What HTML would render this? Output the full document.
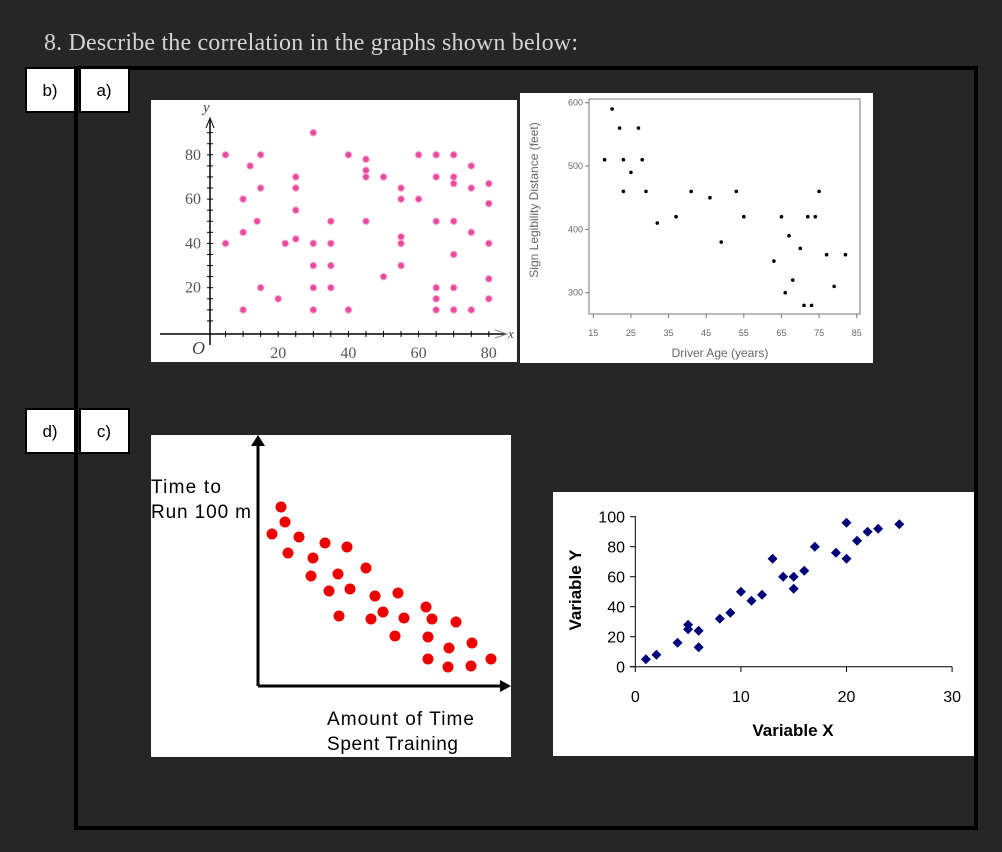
<!DOCTYPE html>
<html><head><meta charset="utf-8"><style>
html,body{margin:0;padding:0;background:#262626;}
svg{display:block;}
</style></head><body>
<svg id="root" width="1002" height="852" xmlns="http://www.w3.org/2000/svg">
<rect x="0" y="0" width="1002" height="852" fill="#262626"/>
<text x="44" y="50" font-family="Liberation Serif, serif" font-size="24" fill="#d4d4d4" textLength="534">8.  Describe the correlation in the graphs shown below:</text>
<rect x="76" y="68" width="900" height="760" fill="none" stroke="#000" stroke-width="4"/>
<g font-family="Liberation Sans, sans-serif" font-size="17" fill="#000">
<rect x="26" y="68" width="49" height="44" fill="#fff" stroke="#000" stroke-width="2"/>
<text x="50" y="96" text-anchor="middle">b)</text>
<rect x="80" y="68" width="49" height="44" fill="#fff" stroke="#000" stroke-width="2"/>
<text x="104" y="96" text-anchor="middle">a)</text>
<rect x="26" y="409" width="49" height="44" fill="#fff" stroke="#000" stroke-width="2"/>
<text x="50" y="437" text-anchor="middle">d)</text>
<rect x="80" y="409" width="49" height="44" fill="#fff" stroke="#000" stroke-width="2"/>
<text x="104" y="437" text-anchor="middle">c)</text>
</g>
<rect x="151" y="100" width="366" height="262" fill="#fff"/>
<rect x="520" y="93" width="353" height="270" fill="#fff"/>
<rect x="151" y="435" width="360" height="322" fill="#fff"/>
<rect x="553" y="492" width="421" height="264" fill="#fff"/>
<g id="ga"></g><g id="gb"></g><g id="gc"></g><g id="gd"></g>
</svg>
<script>
const NS='http://www.w3.org/2000/svg';
function mk(parent,tag,attrs,txt){const e=document.createElementNS(NS,tag);for(const k in attrs)e.setAttribute(k,attrs[k]);if(txt!==undefined)e.textContent=txt;parent.appendChild(e);return e;}

// Chart A data
const aX=[5,5,10,10,10,12,15,15,14,15,20,22,25,25,25,25,30,30,30,30,30,35,35,35,35,40,40,45,45,45,45,50,50,55,55,55,55,55,60,60,65,65,65,65,65,65,70,70,70,70,70,70,70,75,75,75,75,80,80,80,80,80];
const aY=[80,40,45,60,10,75,80,65,50,20,15,40,42,55,65,70,90,40,30,20,10,50,40,30,20,80,10,78,73,70,50,70,25,65,60,43,40,30,80,60,80,70,50,20,15,10,80,70,67,50,35,20,10,75,65,45,10,67,58,40,24,15];
const aTicks=[20,40,60,80];
// Chart B data
const bAge=[18,20,22,23,23,25,27,28,29,32,37,41,46,49,53,55,63,65,66,67,68,70,71,72,73,74,75,77,79,82];
const bDist=[510,590,560,510,460,490,560,510,460,410,420,460,450,380,460,420,350,420,300,390,320,370,280,420,280,420,460,360,310,360];
const bXTicks=[15,25,35,45,55,65,75,85];
const bYTicks=[300,400,500,600];
// Chart C data (training amount, run time) arbitrary units
const cX=[23,27,14,41,30,67,89,55,53,80,108,71,92,117,140,81,113,125,146,168,174,198,137,170,191,214,170,190,213,233];
const cY=[179,164,152,149,133,143,139,128,110,112,118,95,97,90,93,70,67,74,68,79,67,64,50,49,38,43,27,19,20,27];
// Chart D data
const dX=[1,2,4,5,5,6,6,8,9,10,11,12,13,14,15,15,16,17,19,20,20,21,22,23,25];
const dY=[5,8,16,28,25,24,13,32,36,50,44,48,72,60,60,52,64,80,76,96,72,84,90,92,95];
const dXTicks=[0,10,20,30];
const dYTicks=[0,20,40,60,80,100];

// ---- Chart A
(function(){
const g=document.getElementById('ga');
const sx=v=>208+v*3.51, sy=v=>332-v*2.215;
let e;
e=mk(g,'line',{x1:160,y1:334,x2:505,y2:334,stroke:'#000','stroke-width':1.5});

e=mk(g,'line',{x1:210,y1:345,x2:210,y2:120,stroke:'#000','stroke-width':1.5});

mk(g,'path',{d:'M206 128 L210 118 L214 128',fill:'none',stroke:'#000'});
mk(g,'path',{d:'M495 330 L507 334 L495 338',fill:'none',stroke:'#888'});
for(let v=5;v<=80;v+=5){mk(g,'line',{x1:sx(v),y1:331,x2:sx(v),y2:337,stroke:'#000'});}
for(let v=5;v<=90;v+=5){mk(g,'line',{x1:207,y1:sy(v),x2:213,y2:sy(v),stroke:'#000'});}
aTicks.forEach(t=>{
 e=mk(g,'text',{x:sx(t),y:358,'text-anchor':'middle','font-family':'Liberation Serif, serif','font-size':16,fill:'#555'},String(t));
 
 e=mk(g,'text',{x:201,y:sy(t)+5,'text-anchor':'end','font-family':'Liberation Serif, serif','font-size':16,fill:'#555'},String(t));
 
});
mk(g,'text',{x:192,y:354,'font-family':'Liberation Serif, serif','font-style':'italic','font-size':18,fill:'#444'},'O');
mk(g,'text',{x:203,y:112,'font-family':'Liberation Serif, serif','font-style':'italic','font-size':15,fill:'#444'},'y');
mk(g,'text',{x:508,y:338,'font-family':'Liberation Serif, serif','font-style':'italic','font-size':13,fill:'#444'},'x');
aX.forEach((x,i)=>{
 e=mk(g,'circle',{cx:sx(x),cy:sy(aY[i]),r:3.3,fill:'#e84a9e',stroke:'#f7a8d0','stroke-width':1});
 
});
})();

// ---- Chart B
(function(){
const g=document.getElementById('gb');
const sx=v=>593.3+(v-15)*3.763, sy=v=>292.7-(v-300)*0.6333;
let e;
e=mk(g,'rect',{x:589,y:99,width:271,height:215,fill:'none',stroke:'#777','stroke-width':1});

bXTicks.forEach(t=>{
 mk(g,'line',{x1:sx(t),y1:314,x2:sx(t),y2:318,stroke:'#777'});
 e=mk(g,'text',{x:sx(t),y:336,'text-anchor':'middle','font-family':'Liberation Sans, sans-serif','font-size':9,fill:'#666'},String(t));
 
});
bYTicks.forEach(t=>{
 mk(g,'line',{x1:585,y1:sy(t),x2:589,y2:sy(t),stroke:'#777'});
 e=mk(g,'text',{x:583,y:sy(t)+3,'text-anchor':'end','font-family':'Liberation Sans, sans-serif','font-size':9,fill:'#666'},String(t));
 
});
e=mk(g,'text',{x:720,y:357,'text-anchor':'middle','font-family':'Liberation Sans, sans-serif','font-size':12,fill:'#666'},'Driver Age (years)');

e=mk(g,'text',{x:0,y:0,transform:'translate(538,200) rotate(-90)','text-anchor':'middle','font-family':'Liberation Sans, sans-serif','font-size':12,fill:'#666'},'Sign Legibility Distance (feet)');

bAge.forEach((x,i)=>{
 e=mk(g,'circle',{cx:sx(x),cy:sy(bDist[i]),r:1.8,fill:'#000'});
 
});
})();

// ---- Chart C
(function(){
const g=document.getElementById('gc');
const sx=v=>258+v, sy=v=>686-v;
let e;
e=mk(g,'line',{x1:258,y1:686,x2:258,y2:442,stroke:'#000','stroke-width':3});

e=mk(g,'line',{x1:258,y1:686,x2:505,y2:686,stroke:'#000','stroke-width':3});

mk(g,'path',{d:'M251 446 L258 435 L265 446 Z',fill:'#000'});
mk(g,'path',{d:'M500 680 L511 686 L500 692 Z',fill:'#000'});
const f='Liberation Sans, sans-serif';
e=mk(g,'text',{x:151,y:493,'font-family':f,'font-size':19,fill:'#000',textLength:70},'Time to');

mk(g,'text',{x:151,y:518,'font-family':f,'font-size':19,fill:'#000',textLength:100},'Run 100 m');
e=mk(g,'text',{x:327,y:725,'font-family':f,'font-size':19,fill:'#000',textLength:147},'Amount of Time');

mk(g,'text',{x:327,y:750,'font-family':f,'font-size':19,fill:'#000',textLength:131},'Spent Training');
cX.forEach((x,i)=>{
 e=mk(g,'circle',{cx:sx(x),cy:sy(cY[i]),r:5.5,fill:'#ee0000'});
 
});
})();

// ---- Chart D
(function(){
const g=document.getElementById('gd');
const sx=v=>635.3+v*10.56, sy=v=>666.7-v*1.5;
let e;
const f='Liberation Sans, sans-serif';
e=mk(g,'line',{x1:635.3,y1:516,x2:635.3,y2:667,stroke:'#000'});

e=mk(g,'line',{x1:630,y1:666.7,x2:952,y2:666.7,stroke:'#000'});

dYTicks.forEach(t=>{
 mk(g,'line',{x1:630,y1:sy(t),x2:635.3,y2:sy(t),stroke:'#000'});
 e=mk(g,'text',{x:625,y:sy(t)+6,'text-anchor':'end','font-family':f,'font-size':16,fill:'#000'},String(t));
 
});
dXTicks.forEach(t=>{
 mk(g,'line',{x1:sx(t),y1:666.7,x2:sx(t),y2:672,stroke:'#000'});
 e=mk(g,'text',{x:sx(t),y:702,'text-anchor':'middle','font-family':f,'font-size':16,fill:'#000'},String(t));
 
});
e=mk(g,'text',{x:793,y:736,'text-anchor':'middle','font-family':f,'font-size':17,'font-weight':'bold',fill:'#000'},'Variable X');

e=mk(g,'text',{x:0,y:0,transform:'translate(581,590) rotate(-90)','text-anchor':'middle','font-family':f,'font-size':17,'font-weight':'bold',fill:'#000'},'Variable Y');

dX.forEach((x,i)=>{
 const cx=sx(x),cy=sy(dY[i]);
 e=mk(g,'path',{d:`M${cx} ${cy-5} L${cx+5} ${cy} L${cx} ${cy+5} L${cx-5} ${cy} Z`,fill:'#00007a'});
 
});
})();
</script>
</body></html>
